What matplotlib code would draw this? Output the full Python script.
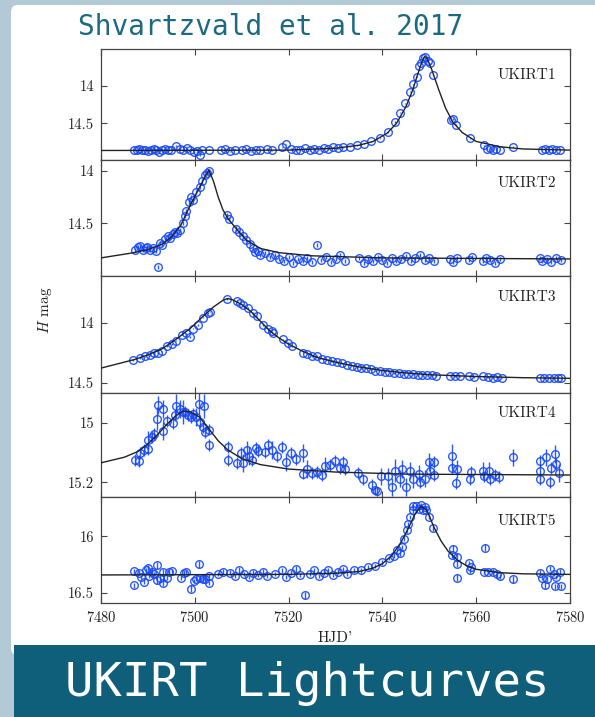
import matplotlib
matplotlib.use('Agg')
import matplotlib.pyplot as plt
import matplotlib.patches
import matplotlib.transforms
import matplotlib.ticker


# ---- data: (HJD', H mag, err) ----
ukirt1_pts = [
    (7487.0, 14.85), (7487.6, 14.86), (7488.2, 14.84), (7488.8, 14.86), (7489.4, 14.85),
    (7490.0, 14.87), (7490.6, 14.85), (7491.2, 14.84), (7491.8, 14.86), (7492.4, 14.88),
    (7493.0, 14.85), (7493.6, 14.84), (7494.2, 14.86), (7495.0, 14.85), (7496.0, 14.80),
    (7496.8, 14.84), (7497.5, 14.86), (7498.3, 14.83), (7499.0, 14.85), (7499.8, 14.88),
    (7500.5, 14.87), (7501.1, 14.92), (7501.6, 14.86), (7503.0, 14.85),
    (7505.5, 14.86), (7506.5, 14.84), (7507.5, 14.87), (7508.5, 14.85), (7510.0, 14.86),
    (7511.0, 14.84), (7512.0, 14.87), (7513.0, 14.85), (7514.0, 14.86), (7515.5, 14.84),
    (7516.5, 14.86), (7518.5, 14.82), (7519.5, 14.78), (7520.5, 14.84), (7521.5, 14.86),
    (7522.5, 14.85), (7523.5, 14.83), (7524.5, 14.86), (7525.5, 14.84), (7526.5, 14.85),
    (7527.5, 14.83), (7528.5, 14.84), (7529.5, 14.82), (7530.5, 14.83), (7531.5, 14.82),
    (7533.0, 14.81), (7534.5, 14.79), (7536.0, 14.77), (7537.5, 14.74), (7539.5, 14.70),
    (7541.2, 14.62), (7542.7, 14.48), (7543.8, 14.36), (7544.8, 14.23), (7545.9, 14.08),
    (7546.5, 13.98), (7547.4, 13.88), (7547.8, 13.74), (7548.2, 13.70), (7548.7, 13.63),
    (7549.1, 13.62), (7549.7, 13.67), (7550.1, 13.70), (7550.8, 13.85),
    (7554.6, 14.46), (7555.0, 14.44), (7555.7, 14.52), (7558.7, 14.70), (7561.7, 14.79),
    (7562.3, 14.84), (7562.9, 14.83), (7563.6, 14.85), (7564.3, 14.84), (7565.0, 14.85),
    (7567.8, 14.81), (7574.0, 14.85), (7574.7, 14.84), (7575.5, 14.86), (7576.2, 14.84),
    (7577.0, 14.85), (7577.8, 14.85),
]
ukirt1_model = [
    (7480, 14.86), (7520, 14.855), (7530, 14.83), (7535, 14.79), (7538, 14.74),
    (7541, 14.63), (7543, 14.50), (7545, 14.28), (7546.5, 14.05), (7547.5, 13.85),
    (7548.5, 13.67), (7549.0, 13.61), (7549.5, 13.63), (7550.5, 13.78), (7552, 14.05),
    (7553.5, 14.30), (7555, 14.48), (7557, 14.62), (7560, 14.74), (7565, 14.81),
    (7570, 14.84), (7580, 14.855),
]

ukirt2_pts = [
    (7487.2, 14.755), (7487.8, 14.73), (7488.3, 14.72), (7488.9, 14.75), (7489.5, 14.74),
    (7489.8, 14.73), (7490.4, 14.75), (7491.0, 14.74), (7491.7, 14.76), (7492.1, 14.92),
    (7492.6, 14.69), (7493.0, 14.71), (7493.6, 14.65), (7494.2, 14.62), (7494.7, 14.64),
    (7495.3, 14.60), (7495.8, 14.58), (7496.3, 14.59), (7496.8, 14.56), (7497.4, 14.50),
    (7497.9, 14.43), (7498.2, 14.38), (7498.8, 14.30), (7499.1, 14.25), (7499.6, 14.28),
    (7500.2, 14.20), (7501.1, 14.15), (7501.6, 14.10), (7502.2, 14.04), (7502.7, 14.02),
    (7503.0, 14.00),
    (7506.8, 14.42), (7507.2, 14.46), (7508.8, 14.55), (7509.5, 14.58), (7510.3, 14.62),
    (7511.0, 14.66), (7511.8, 14.70), (7512.4, 14.74), (7512.8, 14.77),
    (7513.5, 14.76), (7514.0, 14.80), (7515.0, 14.78), (7516.0, 14.82), (7517.0, 14.80),
    (7518.0, 14.84), (7519.0, 14.86), (7520.0, 14.82), (7521.0, 14.88), (7522.0, 14.84),
    (7523.0, 14.86), (7524.0, 14.83), (7525.0, 14.87), (7526.0, 14.71), (7527.0, 14.85),
    (7528.0, 14.82), (7529.0, 14.87), (7530.0, 14.84), (7531.0, 14.80), (7532.0, 14.86),
    (7535.0, 14.83), (7536.0, 14.88), (7537.0, 14.84), (7538.0, 14.86), (7539.0, 14.82),
    (7540.0, 14.85), (7541.0, 14.88), (7542.0, 14.83), (7543.0, 14.86), (7544.0, 14.84),
    (7545.0, 14.81), (7546.0, 14.86), (7547.0, 14.83), (7548.0, 14.80), (7549.0, 14.85),
    (7550.0, 14.83), (7551.0, 14.86), (7554.5, 14.84), (7555.0, 14.87), (7556.0, 14.83),
    (7558.5, 14.85), (7559.0, 14.82), (7561.5, 14.86), (7562.0, 14.83), (7563.0, 14.85),
    (7564.0, 14.88), (7565.0, 14.84), (7573.5, 14.83), (7574.0, 14.86), (7575.0, 14.84),
    (7576.0, 14.87), (7577.0, 14.83), (7578.0, 14.85),
]
ukirt2_model = [
    (7480, 14.83), (7487, 14.78), (7490, 14.75), (7493, 14.70), (7495, 14.63),
    (7497, 14.52), (7499, 14.33), (7500.5, 14.20), (7502, 14.07), (7503, 13.99),
    (7504, 14.10), (7505, 14.25), (7506, 14.37), (7507, 14.45), (7509, 14.56),
    (7511, 14.66), (7514, 14.74), (7518, 14.78), (7525, 14.81), (7540, 14.83),
    (7580, 14.84),
]

ukirt3_pts = [
    (7486.9, 14.311), (7488.3, 14.297), (7489.4, 14.283), (7490.4, 14.269), (7491.2, 14.255),
    (7492.2, 14.25), (7492.9, 14.24), (7494.0, 14.194), (7495.1, 14.18), (7496.0, 14.15),
    (7497.2, 14.10), (7498.1, 14.09), (7499.0, 14.12), (7499.7, 14.05), (7500.7, 14.02),
    (7501.8, 13.96), (7502.9, 13.92), (7503.2, 13.91), (7506.8, 13.805), (7508.9, 13.82),
    (7509.6, 13.84), (7510.3, 13.85), (7511.4, 13.88), (7512.5, 13.92), (7513.2, 13.95),
    (7514.6, 14.02), (7515.7, 14.05), (7516.4, 14.075), (7516.7, 14.09), (7518.9, 14.14),
    (7519.9, 14.17), (7520.7, 14.20), (7523.1, 14.25), (7523.9, 14.26), (7524.9, 14.28),
    (7526.0, 14.28), (7527.1, 14.30), (7528.1, 14.31), (7529.2, 14.32), (7530.3, 14.33),
    (7531.3, 14.34), (7532.4, 14.35), (7533.5, 14.36), (7534.5, 14.37), (7535.5, 14.38),
    (7536.5, 14.38), (7537.5, 14.39), (7538.5, 14.40), (7539.5, 14.40), (7540.5, 14.41),
    (7541.5, 14.41), (7542.5, 14.42), (7543.5, 14.42), (7544.5, 14.43), (7545.5, 14.425),
    (7546.5, 14.43), (7547.5, 14.44), (7548.5, 14.435), (7549.5, 14.44), (7550.5, 14.44),
    (7551.5, 14.445), (7554.5, 14.45), (7555.5, 14.445), (7556.5, 14.45), (7558.5, 14.45),
    (7559.5, 14.455), (7561.5, 14.45), (7562.5, 14.455), (7563.5, 14.46), (7564.5, 14.455),
    (7565.5, 14.46), (7573.5, 14.46), (7574.5, 14.465), (7575.5, 14.46), (7576.5, 14.465),
    (7577.5, 14.46), (7578.0, 14.465),
]
ukirt3_model = [
    (7480, 14.38), (7487, 14.31), (7490, 14.27), (7493, 14.22), (7496, 14.14),
    (7499, 14.05), (7502, 13.94), (7504, 13.87), (7506, 13.815), (7507, 13.80),
    (7508, 13.81), (7510, 13.85), (7512, 13.91), (7514, 13.99), (7516, 14.07),
    (7518, 14.13), (7520, 14.18), (7523, 14.24), (7526, 14.29), (7530, 14.33),
    (7535, 14.37), (7540, 14.40), (7545, 14.42), (7550, 14.435), (7560, 14.45),
    (7570, 14.46), (7580, 14.465),
]

ukirt4_pts = [
    (7487.2, 15.125, 0.02), (7488.2, 15.128, 0.02), (7488.3, 15.100, 0.02), (7489.2, 15.090, 0.02),
    (7490.1, 15.086, 0.02), (7490.1, 15.056, 0.03), (7490.8, 15.047, 0.02), (7491.2, 15.036, 0.02),
    (7492.0, 14.985, 0.04), (7492.1, 14.940, 0.03), (7493.2, 14.952, 0.03), (7493.3, 15.027, 0.03),
    (7494.0, 14.993, 0.02), (7495.3, 15.000, 0.02), (7495.8, 14.974, 0.02), (7496.0, 14.944, 0.04),
    (7496.8, 14.952, 0.03), (7497.5, 14.963, 0.04), (7498.0, 14.963, 0.02), (7498.6, 14.974, 0.02),
    (7499.1, 14.980, 0.02), (7499.7, 14.971, 0.02), (7500.3, 14.980, 0.03), (7501.0, 14.935, 0.04),
    (7501.1, 14.997, 0.02), (7502.0, 14.944, 0.04), (7501.8, 15.013, 0.02), (7502.2, 15.030, 0.02),
    (7503.1, 15.022, 0.02), (7503.1, 15.075, 0.02), (7507.1, 15.080, 0.02), (7507.1, 15.123, 0.02),
    (7509.1, 15.134, 0.02), (7509.8, 15.100, 0.02), (7510.2, 15.134, 0.03), (7511.1, 15.092, 0.03),
    (7511.6, 15.112, 0.03), (7512.1, 15.125, 0.02), (7513.0, 15.083, 0.02), (7513.5, 15.095, 0.02),
    (7515.0, 15.097, 0.02), (7515.7, 15.075, 0.02), (7516.5, 15.090, 0.03), (7517.5, 15.110, 0.02),
    (7518.5, 15.080, 0.02), (7519.5, 15.130, 0.03), (7520.5, 15.100, 0.02), (7521.5, 15.120, 0.02),
    (7523.0, 15.100, 0.03), (7523.1, 15.170, 0.02), (7524.0, 15.156, 0.03), (7524.9, 15.168, 0.02),
    (7526.0, 15.164, 0.02), (7527.1, 15.175, 0.02), (7527.8, 15.145, 0.03), (7528.8, 15.142, 0.02),
    (7529.9, 15.128, 0.02), (7531.0, 15.150, 0.02), (7531.7, 15.130, 0.02), (7532.0, 15.156, 0.02),
    (7534.9, 15.168, 0.02), (7535.9, 15.190, 0.02), (7537.7, 15.210, 0.02), (7538.4, 15.226, 0.015),
    (7538.9, 15.230, 0.015), (7539.8, 15.180, 0.03), (7541.1, 15.180, 0.03), (7542.0, 15.215, 0.03),
    (7542.7, 15.160, 0.04), (7543.8, 15.187, 0.03), (7544.1, 15.156, 0.03), (7545.0, 15.215, 0.03),
    (7545.9, 15.160, 0.03), (7546.6, 15.190, 0.03), (7547.7, 15.170, 0.03), (7548.0, 15.198, 0.02),
    (7549.1, 15.187, 0.03), (7549.9, 15.130, 0.03), (7550.1, 15.160, 0.03), (7550.9, 15.130, 0.02),
    (7550.9, 15.175, 0.02), (7554.8, 15.110, 0.04), (7554.8, 15.153, 0.02), (7555.8, 15.156, 0.03),
    (7555.7, 15.203, 0.02), (7558.8, 15.164, 0.02), (7558.7, 15.190, 0.02), (7561.5, 15.160, 0.03),
    (7561.7, 15.180, 0.02), (7562.8, 15.160, 0.03), (7562.9, 15.187, 0.02), (7564.0, 15.175, 0.02),
    (7564.9, 15.183, 0.02), (7567.8, 15.116, 0.03), (7573.6, 15.128, 0.02), (7573.6, 15.160, 0.02),
    (7573.6, 15.187, 0.02), (7574.9, 15.116, 0.03), (7575.7, 15.200, 0.02), (7575.9, 15.150, 0.02),
    (7576.8, 15.105, 0.03), (7577.0, 15.139, 0.02), (7577.7, 15.168, 0.03),
]
ukirt4_model = [
    (7480, 15.134), (7485, 15.115), (7488, 15.095), (7490, 15.07), (7492, 15.04),
    (7494, 15.005), (7496, 14.975), (7497.5, 14.96), (7499, 14.962), (7501, 14.98),
    (7503, 15.02), (7505, 15.06), (7507, 15.09), (7510, 15.12), (7514, 15.14),
    (7520, 15.155), (7530, 15.165), (7545, 15.172), (7580, 15.175),
]

ukirt5_pts = [
    (7487.1, 16.309, 0.02), (7487.1, 16.432, 0.02), (7488.0, 16.320, 0.02), (7488.5, 16.360, 0.02),
    (7489.2, 16.400, 0.02), (7489.6, 16.300, 0.02), (7490.1, 16.276, 0.02), (7490.3, 16.350, 0.02),
    (7490.8, 16.310, 0.02), (7491.2, 16.330, 0.02), (7491.9, 16.256, 0.03), (7492.0, 16.388, 0.03),
    (7492.6, 16.364, 0.02), (7493.2, 16.315, 0.03), (7493.3, 16.410, 0.03), (7494.0, 16.364, 0.02),
    (7494.4, 16.310, 0.02), (7495.1, 16.306, 0.02), (7497.0, 16.364, 0.02), (7497.6, 16.320, 0.02),
    (7498.1, 16.315, 0.02), (7499.1, 16.460, 0.03), (7499.8, 16.394, 0.02), (7500.3, 16.373, 0.02),
    (7501.0, 16.247, 0.03), (7501.1, 16.364, 0.02), (7501.8, 16.373, 0.02), (7502.2, 16.380, 0.02),
    (7503.1, 16.410, 0.02), (7503.1, 16.350, 0.02),
    (7505.0, 16.33, 0.02), (7506.0, 16.31, 0.02), (7507.5, 16.32, 0.02), (7508.5, 16.35, 0.02),
    (7509.5, 16.30, 0.03), (7510.5, 16.33, 0.02), (7511.5, 16.36, 0.02), (7512.5, 16.32, 0.02),
    (7513.5, 16.34, 0.02), (7514.5, 16.31, 0.02), (7515.5, 16.35, 0.02), (7517.0, 16.33, 0.02),
    (7518.5, 16.30, 0.02), (7519.5, 16.36, 0.02), (7520.5, 16.32, 0.02), (7521.5, 16.29, 0.03),
    (7522.5, 16.34, 0.02), (7523.5, 16.52, 0.03), (7524.5, 16.33, 0.02), (7525.5, 16.30, 0.02),
    (7526.5, 16.35, 0.02), (7527.5, 16.32, 0.02), (7528.5, 16.30, 0.02), (7529.5, 16.34, 0.02),
    (7530.5, 16.31, 0.02), (7531.5, 16.29, 0.02), (7532.5, 16.33, 0.02), (7534.0, 16.30, 0.02),
    (7535.5, 16.30, 0.02), (7537.0, 16.27, 0.02), (7538.5, 16.26, 0.02), (7540.0, 16.23, 0.02),
    (7541.5, 16.19, 0.02), (7542.5, 16.17, 0.02), (7543.2, 16.12, 0.02),
    (7543.8, 16.150, 0.02), (7544.1, 16.095, 0.02), (7544.5, 16.020, 0.02), (7545.2, 15.947, 0.02),
    (7545.5, 15.890, 0.02), (7545.9, 15.830, 0.02), (7546.5, 15.770, 0.02), (7546.6, 15.735, 0.02),
    (7547.2, 15.735, 0.02), (7547.7, 15.755, 0.02), (7548.2, 15.727, 0.02), (7548.6, 15.765, 0.02),
    (7549.1, 15.740, 0.02), (7549.4, 15.765, 0.02), (7550.0, 15.830, 0.02), (7550.7, 15.930, 0.02),
    (7555.0, 16.110, 0.03), (7554.8, 16.168, 0.02), (7555.8, 16.180, 0.03), (7556.0, 16.240, 0.03),
    (7555.8, 16.364, 0.03), (7558.5, 16.235, 0.02), (7558.8, 16.270, 0.02), (7558.7, 16.300, 0.02),
    (7561.9, 16.100, 0.03), (7561.7, 16.310, 0.02), (7562.6, 16.310, 0.02), (7563.6, 16.310, 0.02),
    (7564.5, 16.335, 0.02), (7565.1, 16.353, 0.02), (7567.9, 16.380, 0.03), (7573.6, 16.320, 0.02),
    (7574.0, 16.364, 0.02), (7574.7, 16.430, 0.03), (7575.2, 16.373, 0.02), (7575.7, 16.285, 0.02),
    (7576.6, 16.330, 0.02), (7576.8, 16.440, 0.02), (7577.9, 16.310, 0.02), (7578.0, 16.440, 0.02),
    (7577.1, 16.360, 0.02),
]
ukirt5_model = [
    (7480, 16.34), (7520, 16.335), (7530, 16.325), (7535, 16.31), (7538, 16.28),
    (7540, 16.24), (7542, 16.17), (7544, 16.05), (7545.5, 15.93), (7547, 15.80),
    (7548.2, 15.735), (7549.5, 15.77), (7551, 15.92), (7552.5, 16.04), (7554, 16.13),
    (7556, 16.21), (7558, 16.26), (7560, 16.29), (7565, 16.32), (7570, 16.33),
    (7580, 16.335),
]

panel_names = ['UKIRT1', 'UKIRT2', 'UKIRT3', 'UKIRT4', 'UKIRT5']
panel_points = [ukirt1_pts, ukirt2_pts, ukirt3_pts, ukirt4_pts, ukirt5_pts]
panel_models = [ukirt1_model, ukirt2_model, ukirt3_model, ukirt4_model, ukirt5_model]
panel_err = [0.008, 0.02, 0.006, None, None]
panel_ylims = [(14.98, 13.51), (15.0, 13.89), (14.59, 13.61), (15.248, 14.90), (16.59, 15.65)]
panel_yticks = [[14, 14.5], [14, 14.5], [14, 14.5], [15, 15.2], [16, 16.5]]
xticks = [7480, 7500, 7520, 7540, 7560, 7580]


# ---- layout (pixels of a 595x717 canvas) ----
W, H = 595., 717.
plt.rcParams['font.family'] = 'cmr10'
plt.rcParams['mathtext.fontset'] = 'cm'
plt.rcParams['axes.formatter.use_mathtext'] = True

fig = plt.figure(figsize=(W / 100., H / 100.), dpi=100)
fig.patch.set_facecolor('#b3cad6')

ident = matplotlib.transforms.IdentityTransform()
card = matplotlib.patches.FancyBboxPatch((11, H - 655), 620, 650,
                                         boxstyle='round,pad=0,rounding_size=7',
                                         facecolor='white', edgecolor='none',
                                         transform=ident, zorder=-5)
fig.add_artist(card)

left_px, right_px = 101., 570.
edges = [49., 159.5, 275.7, 393.3, 496.7, 603.3]
label_offsets = [26, 24, 21, 20, 24]

blue = '#1447ff'
axes = []
for i in range(5):
    top, bot = edges[i], edges[i + 1]
    ax = fig.add_axes([left_px / W, 1 - bot / H, (right_px - left_px) / W, (bot - top) / H])
    axes.append(ax)

    pts = panel_points[i]
    t = [p[0] for p in pts]
    m = [p[1] for p in pts]
    if panel_err[i] is None:
        e = [p[2] for p in pts]
    else:
        e = [panel_err[i]] * len(pts)

    mt = [p[0] for p in panel_models[i]]
    mm = [p[1] for p in panel_models[i]]
    ax.plot(mt, mm, color='#222222', lw=1.0, zorder=3)

    ax.errorbar(t, m, yerr=e, fmt='o', mfc='none', mec=blue, ecolor=blue,
                ms=5.5, mew=1.0, elinewidth=1.0, capsize=0, alpha=0.9, zorder=2)

    ax.set_xlim(7480, 7580)
    ax.set_ylim(*panel_ylims[i])
    ax.set_yticks(panel_yticks[i])
    ax.yaxis.set_major_formatter(matplotlib.ticker.FormatStrFormatter('%g'))
    ax.set_xticks(xticks)
    ax.tick_params(direction='in', top=True, right=True, length=4, width=0.8,
                   color='#444444', labelsize=10.5, labelcolor='#222222', pad=5)
    if i < 4:
        ax.tick_params(labelbottom=False)
    for s in ax.spines.values():
        s.set_color('#444444')
        s.set_linewidth(0.9)

    hpx = bot - top
    ax.text((556 - left_px) / (right_px - left_px), 1 - label_offsets[i] / hpx,
            panel_names[i], transform=ax.transAxes, ha='right', va='center',
            fontsize=11, color='#222222')

axes[-1].set_xlabel("HJD'", fontsize=11, color='#222222', labelpad=4)
fig.text(45 / W, 1 - 310 / H, '$H$ mag', rotation=90, ha='center', va='center',
         fontsize=11, color='#222222')

# title and banner
fig.text(271 / W, 1 - 27 / H, 'Shvartzvald et al. 2017', ha='center', va='center',
         family='DejaVu Sans Mono', fontsize=20, color='#1b6a80')
banner = matplotlib.patches.Rectangle((14, 0), 600, H - 645, facecolor='#0f5f7b',
                                      edgecolor='none', transform=ident, zorder=10)
fig.add_artist(banner)
fig.text(307 / W, 1 - 683 / H, 'UKIRT Lightcurves', ha='center', va='center',
         family='DejaVu Sans Mono', fontsize=34, color='white', zorder=11)

fig.savefig('out.png', dpi=100, facecolor=fig.get_facecolor())
